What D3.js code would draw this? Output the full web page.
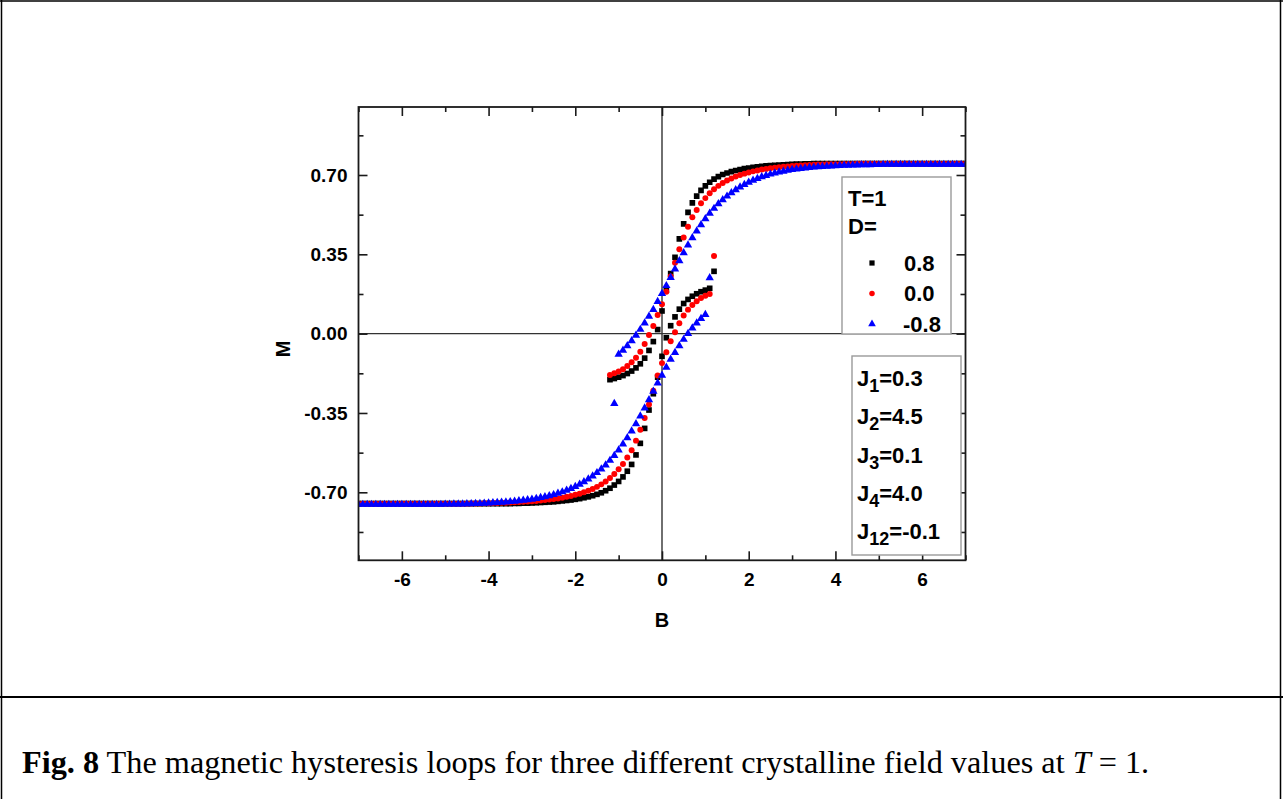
<!DOCTYPE html>
<html>
<head>
<meta charset="utf-8">
<script src="https://cdn.jsdelivr.net/npm/d3@7"></script>
<style>
  html, body { margin: 0; padding: 0; background: #fff; }
  svg { display: block; }
</style>
</head>
<body>
<svg id="fig" width="1283" height="799"></svg>
<script>
// ---- Data -------------------------------------------------------------
// Crystal-field values D and their marker colours / shapes
const seriesD = ["0.8", "0.0", "-0.8"];
const seriesColor = ["#000000", "#ff0000", "#0000ff"];

// Field grid spacing shared by every sweep
const fieldStep = 0.1;

// Decreasing-field sweep (upper branch): first B value, then M at each step
const downStartB = [-1.2, -1.2, -1.1];
// Increasing-field sweep (lower branch): first B value, then M at each step
const upStartB = [-7.0, -7.0, -7.0];

// D = 0.8
const downM_D08 = [
  -0.203, -0.198, -0.192, -0.185, -0.176, -0.165, -0.151, -0.133, -0.108, -0.074,
  -0.035, 0.018, 0.100, 0.192, 0.265, 0.337, 0.418, 0.484, 0.535, 0.577,
  0.607, 0.632, 0.652, 0.668, 0.682, 0.693, 0.702, 0.709, 0.715, 0.720,
  0.724, 0.728, 0.731, 0.734, 0.736, 0.738, 0.740, 0.742, 0.743, 0.744,
  0.745, 0.746, 0.747, 0.748, 0.748, 0.749, 0.749, 0.750, 0.750, 0.750,
  0.750, 0.750, 0.750, 0.750, 0.750, 0.750, 0.750, 0.750, 0.750, 0.750,
  0.750, 0.750, 0.750, 0.750, 0.750, 0.750, 0.750, 0.750, 0.750, 0.750,
  0.750, 0.750, 0.750, 0.750, 0.750, 0.750, 0.750, 0.750, 0.750, 0.750,
  0.750, 0.750, 0.750
];
const upM_D08 = [
  -0.750, -0.750, -0.750, -0.750, -0.750, -0.750, -0.750, -0.750, -0.750, -0.750,
  -0.750, -0.750, -0.750, -0.750, -0.750, -0.750, -0.750, -0.750, -0.750, -0.750,
  -0.750, -0.750, -0.750, -0.750, -0.750, -0.750, -0.750, -0.750, -0.750, -0.750,
  -0.750, -0.750, -0.750, -0.750, -0.750, -0.750, -0.749, -0.749, -0.748, -0.748,
  -0.747, -0.746, -0.745, -0.744, -0.743, -0.742, -0.740, -0.738, -0.736, -0.734,
  -0.731, -0.728, -0.724, -0.720, -0.715, -0.709, -0.702, -0.693, -0.682, -0.668,
  -0.652, -0.632, -0.607, -0.577, -0.535, -0.484, -0.418, -0.337, -0.265, -0.192,
  -0.100, -0.018, 0.035, 0.074, 0.108, 0.133, 0.151, 0.165, 0.176, 0.185,
  0.192, 0.200, 0.275
];

// D = 0.0
const downM_D00 = [
  -0.182, -0.175, -0.167, -0.157, -0.143, -0.126, -0.106, -0.080, -0.046, -0.006,
  0.034, 0.082, 0.130, 0.185, 0.252, 0.313, 0.372, 0.424, 0.472, 0.514,
  0.546, 0.575, 0.598, 0.619, 0.637, 0.652, 0.665, 0.676, 0.685, 0.693,
  0.700, 0.706, 0.711, 0.716, 0.720, 0.724, 0.727, 0.730, 0.732, 0.734,
  0.736, 0.738, 0.740, 0.741, 0.742, 0.743, 0.744, 0.745, 0.746, 0.746,
  0.747, 0.747, 0.748, 0.748, 0.749, 0.749, 0.749, 0.750, 0.750, 0.750,
  0.750, 0.750, 0.750, 0.750, 0.750, 0.750, 0.750, 0.750, 0.750, 0.750,
  0.750, 0.750, 0.750, 0.750, 0.750, 0.750, 0.750, 0.750, 0.750, 0.750,
  0.750, 0.750, 0.750
];
const upM_D00 = [
  -0.750, -0.750, -0.750, -0.750, -0.750, -0.750, -0.750, -0.750, -0.750, -0.750,
  -0.750, -0.750, -0.750, -0.750, -0.750, -0.750, -0.750, -0.750, -0.750, -0.750,
  -0.750, -0.750, -0.750, -0.750, -0.750, -0.750, -0.749, -0.749, -0.749, -0.748,
  -0.748, -0.747, -0.747, -0.746, -0.746, -0.745, -0.744, -0.743, -0.742, -0.741,
  -0.740, -0.738, -0.736, -0.734, -0.732, -0.730, -0.727, -0.724, -0.720, -0.716,
  -0.711, -0.706, -0.700, -0.693, -0.685, -0.676, -0.665, -0.652, -0.637, -0.619,
  -0.598, -0.575, -0.546, -0.514, -0.472, -0.424, -0.372, -0.313, -0.252, -0.185,
  -0.130, -0.082, -0.034, 0.006, 0.046, 0.080, 0.106, 0.126, 0.143, 0.157,
  0.167, 0.175, 0.343
];

// D = -0.8
const downM_Dm08 = [
  -0.305, -0.088, -0.070, -0.050, -0.028, -0.004, 0.022, 0.050, 0.080, 0.110,
  0.145, 0.180, 0.215, 0.251, 0.288, 0.325, 0.360, 0.394, 0.426, 0.456,
  0.484, 0.510, 0.534, 0.556, 0.576, 0.594, 0.610, 0.625, 0.638, 0.650,
  0.661, 0.671, 0.680, 0.688, 0.695, 0.701, 0.707, 0.712, 0.716, 0.720,
  0.724, 0.727, 0.730, 0.732, 0.734, 0.736, 0.738, 0.740, 0.741, 0.742,
  0.743, 0.744, 0.745, 0.746, 0.746, 0.747, 0.747, 0.748, 0.748, 0.748,
  0.749, 0.749, 0.750, 0.750, 0.750, 0.750, 0.750, 0.750, 0.750, 0.750,
  0.750, 0.750, 0.750, 0.750, 0.750, 0.750, 0.750, 0.750, 0.750, 0.750,
  0.750, 0.750
];
const upM_Dm08 = [
  -0.750, -0.750, -0.750, -0.750, -0.750, -0.750, -0.750, -0.750, -0.750, -0.750,
  -0.750, -0.750, -0.750, -0.750, -0.750, -0.750, -0.750, -0.750, -0.750, -0.750,
  -0.749, -0.749, -0.748, -0.748, -0.748, -0.747, -0.747, -0.746, -0.746, -0.745,
  -0.744, -0.743, -0.742, -0.741, -0.740, -0.738, -0.736, -0.734, -0.732, -0.730,
  -0.727, -0.724, -0.720, -0.716, -0.712, -0.707, -0.701, -0.695, -0.688, -0.680,
  -0.671, -0.661, -0.650, -0.638, -0.625, -0.610, -0.594, -0.576, -0.556, -0.534,
  -0.510, -0.484, -0.456, -0.426, -0.394, -0.360, -0.325, -0.288, -0.251, -0.215,
  -0.180, -0.145, -0.110, -0.080, -0.050, -0.022, 0.004, 0.028, 0.050, 0.070,
  0.088, 0.250
];

const downSweeps = [downM_D08, downM_D00, downM_Dm08];
const upSweeps = [upM_D08, upM_D00, upM_Dm08];

// Axis ranges and ticks
const bDomain = [-7, 7];
const mDomain = [-1, 1];
const bMajorTicks = [-6, -4, -2, 0, 2, 4, 6];
const bMinorTicks = [-7, -5, -3, -1, 1, 3, 5, 7];
const mMajorTicks = [-0.70, -0.35, 0.00, 0.35, 0.70];
const mMinorTicks = [-0.875, -0.525, -0.175, 0.175, 0.525, 0.875];

// Parameter panel
const paramNames = ["1", "2", "3", "4", "12"];
const paramValues = ["0.3", "4.5", "0.1", "4.0", "-0.1"];

// ---- Layout -----------------------------------------------------------
const svg = d3.select("#fig");
const plot = { left: 358.5, right: 965.5, top: 107, bottom: 560.3 };
const sansBold = "'Liberation Sans', Arial, Helvetica, sans-serif";
const serif = "'Liberation Serif', 'Times New Roman', serif";
const ink = "#1a1a1a";

const x = d3.scaleLinear().domain(bDomain).range([plot.left, plot.right]);
const y = d3.scaleLinear().domain(mDomain).range([plot.bottom, plot.top]);

// Outer figure box with caption divider
const frame = svg.append("g").attr("stroke", "#000").attr("fill", "none");
frame.append("line").attr("x1", 0).attr("x2", 1283).attr("y1", 1).attr("y2", 1).attr("stroke-width", 1.5);
frame.append("line").attr("x1", 1.5).attr("x2", 1.5).attr("y1", 0).attr("y2", 799).attr("stroke-width", 1.5);
frame.append("line").attr("x1", 1280.5).attr("x2", 1280.5).attr("y1", 0).attr("y2", 799).attr("stroke-width", 1.5);
frame.append("line").attr("x1", 0).attr("x2", 1283).attr("y1", 697).attr("y2", 697).attr("stroke-width", 2);

// Zero lines
svg.append("line")
  .attr("x1", x(0)).attr("x2", x(0)).attr("y1", plot.top).attr("y2", plot.bottom)
  .attr("stroke", "#333").attr("stroke-width", 1.4);
svg.append("line")
  .attr("x1", plot.left).attr("x2", plot.right).attr("y1", y(0)).attr("y2", y(0))
  .attr("stroke", "#333").attr("stroke-width", 1.4);

// Data markers
svg.append("defs").append("clipPath").attr("id", "plotClip")
  .append("rect")
  .attr("x", plot.left).attr("y", plot.top)
  .attr("width", plot.right - plot.left).attr("height", plot.bottom - plot.top);

const symbolTypes = [d3.symbolSquare, d3.symbolCircle, d3.symbolTriangle];
const symbolSizes = [32, 28, 30];

function sweepPoints(startB, values) {
  return values.map((m, i) => ({ b: +(startB + i * fieldStep).toFixed(1), m }));
}

const markers = svg.append("g").attr("clip-path", "url(#plotClip)");
seriesD.forEach((d, s) => {
  const pts = sweepPoints(upStartB[s], upSweeps[s])
    .concat(sweepPoints(downStartB[s], downSweeps[s]));
  const sym = d3.symbol().type(symbolTypes[s]).size(symbolSizes[s]);
  markers.append("g")
    .attr("fill", seriesColor[s])
    .selectAll("path")
    .data(pts)
    .join("path")
    .attr("d", sym)
    .attr("transform", p => `translate(${x(p.b)},${y(p.m) + (s === 2 ? 0.8 : 0)})`);
});

// Axes with inward ticks on all four sides
function styleAxis(g) {
  g.select(".domain").remove();
  g.selectAll(".tick line").attr("stroke", ink).attr("stroke-width", 1.6);
  g.selectAll(".tick text")
    .attr("fill", "#000")
    .attr("font-family", sansBold)
    .attr("font-weight", "bold")
    .attr("font-size", 19);
}

svg.append("g").attr("transform", `translate(0,${plot.bottom})`)
  .call(d3.axisBottom(x).tickValues(bMajorTicks).tickSize(-9).tickPadding(12).tickFormat(d => String(d)))
  .call(styleAxis);
svg.append("g").attr("transform", `translate(0,${plot.bottom})`)
  .call(d3.axisBottom(x).tickValues(bMinorTicks).tickSize(-5).tickFormat(""))
  .call(styleAxis);
svg.append("g").attr("transform", `translate(0,${plot.top})`)
  .call(d3.axisTop(x).tickValues(bMajorTicks).tickSize(-9).tickFormat(""))
  .call(styleAxis);
svg.append("g").attr("transform", `translate(0,${plot.top})`)
  .call(d3.axisTop(x).tickValues(bMinorTicks).tickSize(-5).tickFormat(""))
  .call(styleAxis);

svg.append("g").attr("transform", `translate(${plot.left},0)`)
  .call(d3.axisLeft(y).tickValues(mMajorTicks).tickSize(-9).tickPadding(11).tickFormat(d => d.toFixed(2)))
  .call(styleAxis);
svg.append("g").attr("transform", `translate(${plot.left},0)`)
  .call(d3.axisLeft(y).tickValues(mMinorTicks).tickSize(-5).tickFormat(""))
  .call(styleAxis);
svg.append("g").attr("transform", `translate(${plot.right},0)`)
  .call(d3.axisRight(y).tickValues(mMajorTicks).tickSize(-9).tickFormat(""))
  .call(styleAxis);
svg.append("g").attr("transform", `translate(${plot.right},0)`)
  .call(d3.axisRight(y).tickValues(mMinorTicks).tickSize(-5).tickFormat(""))
  .call(styleAxis);

// Plot frame
svg.append("rect")
  .attr("x", plot.left).attr("y", plot.top)
  .attr("width", plot.right - plot.left).attr("height", plot.bottom - plot.top)
  .attr("fill", "none").attr("stroke", ink).attr("stroke-width", 1.8);

// Axis titles
svg.append("text")
  .attr("x", x(0)).attr("y", 627)
  .attr("text-anchor", "middle")
  .attr("font-family", sansBold).attr("font-weight", "bold").attr("font-size", 20)
  .text("B");
svg.append("text")
  .attr("transform", "translate(290,349) rotate(-90)")
  .attr("text-anchor", "middle")
  .attr("font-family", sansBold).attr("font-weight", "bold").attr("font-size", 20)
  .text("M");

// Legend box: temperature and crystal-field values
const legend = svg.append("g")
  .attr("font-family", sansBold).attr("font-weight", "bold").attr("font-size", 22).attr("fill", "#000");
legend.append("rect")
  .attr("x", 842).attr("y", 177).attr("width", 109).attr("height", 157)
  .attr("fill", "#fff").attr("stroke", "#9a9a9a").attr("stroke-width", 1.4);
legend.append("text").attr("x", 848).attr("y", 206).text("T=1");
legend.append("text").attr("x", 848).attr("y", 234).text("D=");
seriesD.forEach((d, s) => {
  const cy = 263 + s * 30.5;
  legend.append("path")
    .attr("d", d3.symbol().type(symbolTypes[s]).size(symbolSizes[s] * 0.85)())
    .attr("transform", `translate(872,${cy})`)
    .attr("fill", seriesColor[s]);
  legend.append("text").attr("x", d.startsWith("-") ? 903 : 904).attr("y", cy + 7.5).text(d);
});

// Coupling-constant panel
const panel = svg.append("g")
  .attr("font-family", sansBold).attr("font-weight", "bold").attr("font-size", 22).attr("fill", "#000");
panel.append("rect")
  .attr("x", 852).attr("y", 356).attr("width", 109).attr("height", 199)
  .attr("fill", "#fff").attr("stroke", "#9a9a9a").attr("stroke-width", 1.4);
paramNames.forEach((n, i) => {
  const t = panel.append("text").attr("x", 857).attr("y", 386 + i * 38.3);
  t.append("tspan").text("J");
  t.append("tspan").attr("font-size", 18).attr("dy", 6).text(n);
  t.append("tspan").attr("dy", -6).text("=" + paramValues[i]);
});

// Caption: font size chosen so the line spans the same width as the panel text
const captionLeft = 22;
const captionRight = 1150;
const caption = svg.append("text")
  .attr("x", captionLeft).attr("y", 773)
  .attr("font-family", serif).attr("font-size", 22).attr("fill", "#000");
caption.append("tspan").attr("font-weight", "bold").text("Fig. 8");
caption.append("tspan").text(" The magnetic hysteresis loops for three different crystalline field values at ");
caption.append("tspan").attr("font-style", "italic").text("T");
caption.append("tspan").text(" = 1.");
const capWidth = caption.node().getComputedTextLength();
caption.attr("font-size", 22 * (captionRight - captionLeft) / capWidth);
</script>
</body>
</html>
